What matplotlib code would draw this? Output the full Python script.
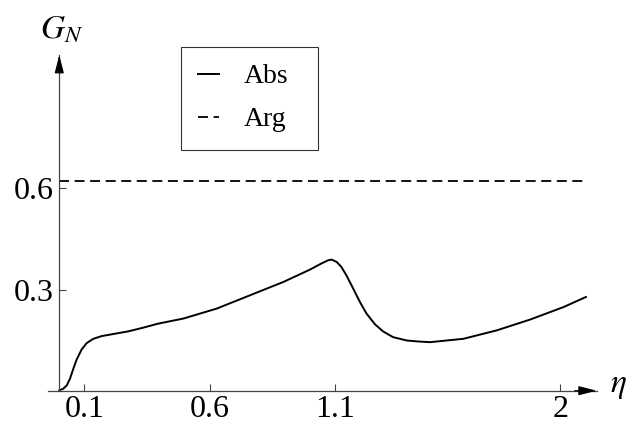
import matplotlib
matplotlib.use("Agg")
import matplotlib.pyplot as plt

# values
eta = [0, 0.016, 0.030, 0.043, 0.056, 0.069, 0.089, 0.109, 0.136, 0.169,
       0.222, 0.275, 0.335, 0.395, 0.495, 0.628, 0.761, 0.894, 1.0, 1.04,
       1.073, 1.087, 1.107, 1.126, 1.146, 1.173, 1.2, 1.226, 1.26, 1.292,
       1.332, 1.386, 1.432, 1.48, 1.613, 1.746, 1.879, 2.012, 2.102]
g_abs = [0.001, 0.006, 0.016, 0.036, 0.065, 0.092, 0.122, 0.141, 0.154, 0.162,
         0.169, 0.176, 0.187, 0.199, 0.214, 0.2435, 0.283, 0.3225, 0.359, 0.375,
         0.387, 0.389, 0.382, 0.367, 0.342, 0.303, 0.263, 0.229, 0.197, 0.176,
         0.159, 0.149, 0.146, 0.144, 0.154, 0.179, 0.211, 0.248, 0.278]
g_arg = 0.622
arg_span = [0, 2.105]

x_ticks = [0.1, 0.6, 1.1, 2]
x_tick_labels = ["0.1", "0.6", "1.1", "2"]
y_ticks = [0.3, 0.6]
y_tick_labels = ["0.3", "0.6"]

plt.rcParams['font.family'] = ['Liberation Serif', 'DejaVu Serif']
plt.rcParams['mathtext.fontset'] = 'stix'
plt.rcParams['lines.scale_dashes'] = False

fig = plt.figure(figsize=(6.3, 4.25), dpi=100)
ax = fig.add_axes([0.0762, 0.0807, 0.871, 0.790])

ax.plot(eta, g_abs, color='black', lw=1.4, label='Abs', solid_joinstyle='round')
ax.plot(arg_span, [g_arg, g_arg], color='black', lw=1.3, dashes=(7.2, 4.0),
        label='Arg')

ax.set_xlim(-0.045, 2.145)
ax.set_ylim(0, 0.996)

for s in ['top', 'right']:
    ax.spines[s].set_visible(False)
ax.spines['left'].set_position(('data', 0))
ax.spines['bottom'].set_position(('data', 0))
for s in ['left', 'bottom']:
    ax.spines[s].set_color('#444444')
    ax.spines[s].set_linewidth(0.9)

ax.set_xticks(x_ticks, x_tick_labels)
ax.set_yticks(y_ticks, y_tick_labels)
ax.tick_params(direction='in', length=5, width=0.8, color='#444444',
               labelsize=23, pad=3)
ax.tick_params(axis='y', pad=4)

# arrow heads on the axes
arrow = dict(arrowstyle='-|>,head_length=1.1,head_width=0.28', color='black',
             lw=0.9, shrinkA=0, shrinkB=0)
ax.annotate('', xy=(1.0, 0), xytext=(0.96, 0),
            xycoords=('axes fraction', 'data'), arrowprops=arrow)
ax.annotate('', xy=(0, 1.0), xytext=(0, 0.95),
            xycoords=('data', 'axes fraction'), arrowprops=arrow)

fig.text(0.097, 0.93, r'$G_N$', fontsize=24, ha='center', va='center')
fig.text(0.982, 0.093, r'$\eta$', fontsize=24, ha='center', va='center')

leg_w = 137 / 630
leg_h = 103 / 425
leg = ax.legend(loc='upper left', bbox_to_anchor=(0.287, 0.890 - leg_h, leg_w, leg_h),
                bbox_transform=fig.transFigure, mode='expand', fontsize=20,
                frameon=True, fancybox=False, edgecolor='black',
                handlelength=0.75, handletextpad=0.9, borderpad=0.62,
                labelspacing=0.63, borderaxespad=0)
leg.get_frame().set_linewidth(0.8)

fig.savefig('out.png', dpi=100)
